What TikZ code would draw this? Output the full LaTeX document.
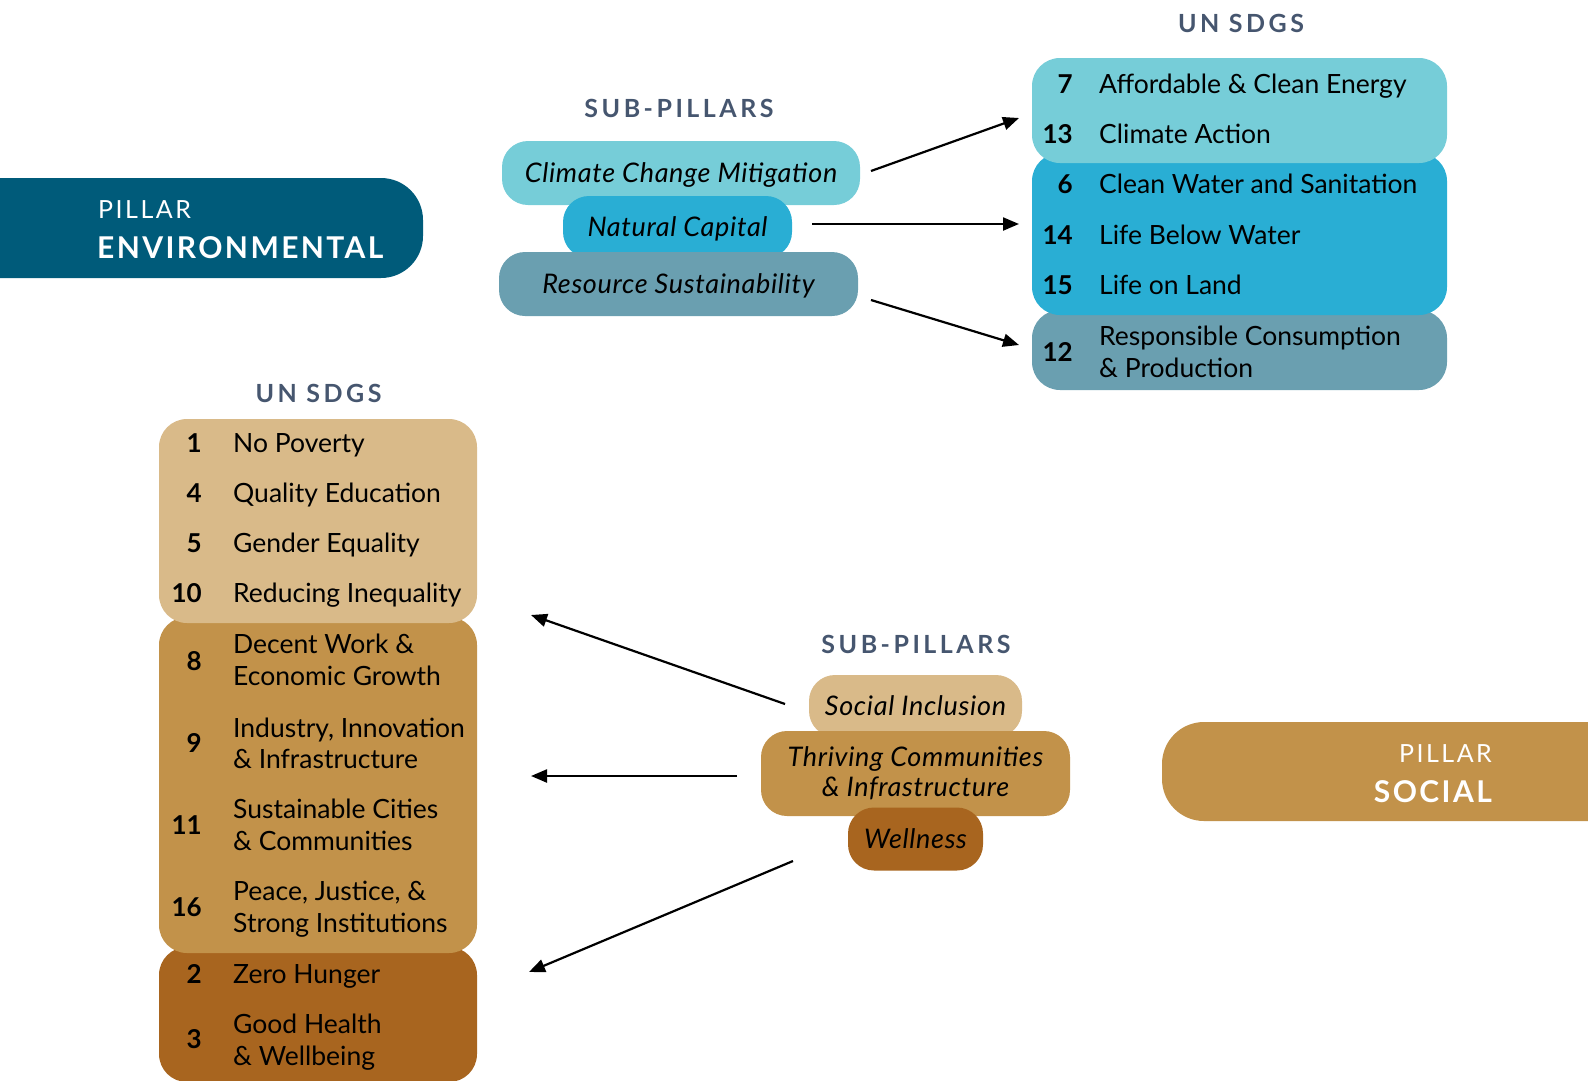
\documentclass[tikz,border=0pt]{standalone}
\usepackage{fontspec}
\setmainfont{Lato}
\newfontfamily\spacedfont[LetterSpace=14]{Lato}
\newfontfamily\pillarfont[LetterSpace=10]{Lato}
\newfontfamily\boldpillarfont[LetterSpace=8]{Lato}
\newfontfamily\subfont[LetterSpace=2.5]{Lato}
\usetikzlibrary{arrows.meta}
\definecolor{envdark}{HTML}{005B7A}
\definecolor{tealA}{HTML}{76CDD8}
\definecolor{tealB}{HTML}{29AED4}
\definecolor{tealC}{HTML}{6A9FB0}
\definecolor{tanA}{HTML}{D9BA89}
\definecolor{tanB}{HTML}{C2924A}
\definecolor{tanC}{HTML}{A8651F}
\definecolor{headc}{HTML}{46566F}
\tikzset{
  box/.style={rounded corners=26pt, inner sep=0pt, draw=none},
  pillarbox/.style={rounded corners=42pt, inner sep=0pt, draw=none},
  subtext/.style={font=\fontsize{27}{32}\selectfont\subfont\itshape, text=black, text height=19pt, text depth=0pt},
  heading/.style={font=\fontsize{25}{30}\selectfont\spacedfont\bfseries, text=headc, anchor=base, inner sep=0pt},
  num/.style={font=\fontsize{26}{32}\selectfont\bfseries, anchor=base east, inner sep=0pt},
  item/.style={font=\fontsize{26.5}{32}\selectfont, anchor=base west, inner sep=0pt},
  arr/.style={line width=2.2pt, -{Triangle[length=16pt,width=13pt]}},
}
\begin{document}
\begin{tikzpicture}[x=1pt,y=-1pt]
\useasboundingbox (0,0) rectangle (1588,1080);

% ---------- Environmental pillar ----------
\node[pillarbox, fill=envdark, minimum width=473pt, minimum height=100pt] (envpillar) at (186.5,228) {};
\node[anchor=base west, inner sep=0pt, text=white, font=\fontsize{25}{30}\selectfont\pillarfont] (envlbl) at (98,218) {PILLAR};
\node[anchor=base west, inner sep=0pt, text=white, font=\fontsize{30}{36}\selectfont\boldpillarfont\bfseries] (envname) at (97,258) {ENVIRONMENTAL};

% ---------- Environmental sub-pillars ----------
\node[heading] (envsubhead) at (679,117) {SUB-PILLARS};
\node[box, fill=tealA, minimum width=358pt, minimum height=64pt, subtext] (ccm) at (681,173) {Climate Change Mitigation};
\node[box, fill=tealB, minimum width=229pt, minimum height=62pt, subtext] (natcap) at (677.5,227) {Natural Capital};
\node[box, fill=tealC, minimum width=359pt, minimum height=64pt, subtext] (ressus) at (678.5,284) {Resource Sustainability};

% ---------- Environmental SDGs ----------
\node[heading] (envsdghead) at (1241,32) {UN SDGS};
\node[box, fill=tealC, minimum width=415pt, minimum height=80pt, rounded corners=28pt] (sdgC) at (1239.5,350) {};
\node[box, fill=tealB, minimum width=415pt, minimum height=162pt, rounded corners=28pt] (sdgB) at (1239.5,234) {};
\node[box, fill=tealA, minimum width=415pt, minimum height=105pt, rounded corners=28pt] (sdgA) at (1239.5,110.5) {};

\node[num] (n7) at (1073,93) {7};
\node[item] (t7) at (1099,93) {Affordable \& Clean Energy};
\node[num] (n13) at (1073,143) {13};
\node[item] (t13) at (1099,143) {Climate Action};
\node[num] (n6) at (1073,193) {6};
\node[item] (t6) at (1099,193) {Clean Water and Sanitation};
\node[num] (n14) at (1073,244) {14};
\node[item] (t14) at (1099,244) {Life Below Water};
\node[num] (n15) at (1073,294) {15};
\node[item] (t15) at (1099,294) {Life on Land};
\node[num] (n12) at (1073,361) {12};
\node[item] (t12a) at (1099,345) {Responsible Consumption};
\node[item] (t12b) at (1099,377) {\& Production};

% env arrows
\coordinate (ea1s) at (871,171);
\coordinate (ea1e) at (1019,118);
\coordinate (ea2s) at (812,224);
\coordinate (ea2e) at (1019,224);
\coordinate (ea3s) at (871,300);
\coordinate (ea3e) at (1019,345);
\draw[arr] (ea1s) -- (ea1e);
\draw[arr] (ea2s) -- (ea2e);
\draw[arr] (ea3s) -- (ea3e);

% ---------- Social SDGs ----------
\node[heading] (socsdghead) at (318.5,402) {UN SDGS};
\node[box, fill=tanC, minimum width=318pt, minimum height=135pt, rounded corners=28pt] (lsdgC) at (318,1014.5) {};
\node[box, fill=tanB, minimum width=318pt, minimum height=336pt, rounded corners=28pt] (lsdgB) at (318,785) {};
\node[box, fill=tanA, minimum width=318pt, minimum height=204pt, rounded corners=28pt] (lsdgA) at (318,521) {};

\node[num] (n1) at (202,452) {1};
\node[item] (t1) at (233,452) {No Poverty};
\node[num] (n4) at (202,502) {4};
\node[item] (t4) at (233,502) {Quality Education};
\node[num] (n5) at (202,552) {5};
\node[item] (t5) at (233,552) {Gender Equality};
\node[num] (n10) at (202,602) {10};
\node[item] (t10) at (233,602) {Reducing Inequality};

\node[num] (n8) at (202,670) {8};
\node[item] (t8a) at (233,653) {Decent Work \&};
\node[item] (t8b) at (233,685) {Economic Growth};
\node[num] (n9) at (202,752) {9};
\node[item] (t9a) at (233,737) {Industry, Innovation};
\node[item] (t9b) at (233,768) {\& Infrastructure};
\node[num] (n11) at (202,834) {11};
\node[item] (t11a) at (233,818) {Sustainable Cities};
\node[item] (t11b) at (233,850) {\& Communities};
\node[num] (n16) at (202,916) {16};
\node[item] (t16a) at (233,900) {Peace, Justice, \&};
\node[item] (t16b) at (233,932) {Strong Institutions};

\node[num] (n2) at (202,983) {2};
\node[item] (t2) at (233,983) {Zero Hunger};
\node[num] (n3) at (202,1048) {3};
\node[item] (t3a) at (233,1033) {Good Health};
\node[item] (t3b) at (233,1065) {\& Wellbeing};

% ---------- Social sub-pillars ----------
\node[heading] (socsubhead) at (916,653) {SUB-PILLARS};
\node[box, fill=tanA, minimum width=213pt, minimum height=62pt, subtext] (socinc) at (915.5,706) {Social Inclusion};
\node[box, fill=tanB, minimum width=309pt, minimum height=85pt, font=\fontsize{27}{31}\selectfont\subfont\itshape, align=center] (thrive) at (915.5,773.5) {Thriving Communities\\[-1pt]\& Infrastructure};
\node[box, fill=tanC, minimum width=135pt, minimum height=63pt, subtext] (wellness) at (915.5,839) {Wellness};

% social arrows
\coordinate (sa1s) at (785,704);
\coordinate (sa1e) at (531,615);
\coordinate (sa2s) at (737,776);
\coordinate (sa2e) at (531,776);
\coordinate (sa3s) at (793,861);
\coordinate (sa3e) at (529,972);
\draw[arr] (sa1s) -- (sa1e);
\draw[arr] (sa2s) -- (sa2e);
\draw[arr] (sa3s) -- (sa3e);

% ---------- Social pillar ----------
\node[pillarbox, fill=tanB, minimum width=490pt, minimum height=99pt] (socpillar) at (1407,771.5) {};
\node[anchor=base east, inner sep=0pt, text=white, font=\fontsize{25}{30}\selectfont\pillarfont] (soclbl) at (1492,762) {PILLAR};
\node[anchor=base east, inner sep=0pt, text=white, font=\fontsize{30}{36}\selectfont\boldpillarfont\bfseries] (socname) at (1492,802) {SOCIAL};
\end{tikzpicture}
\end{document}
